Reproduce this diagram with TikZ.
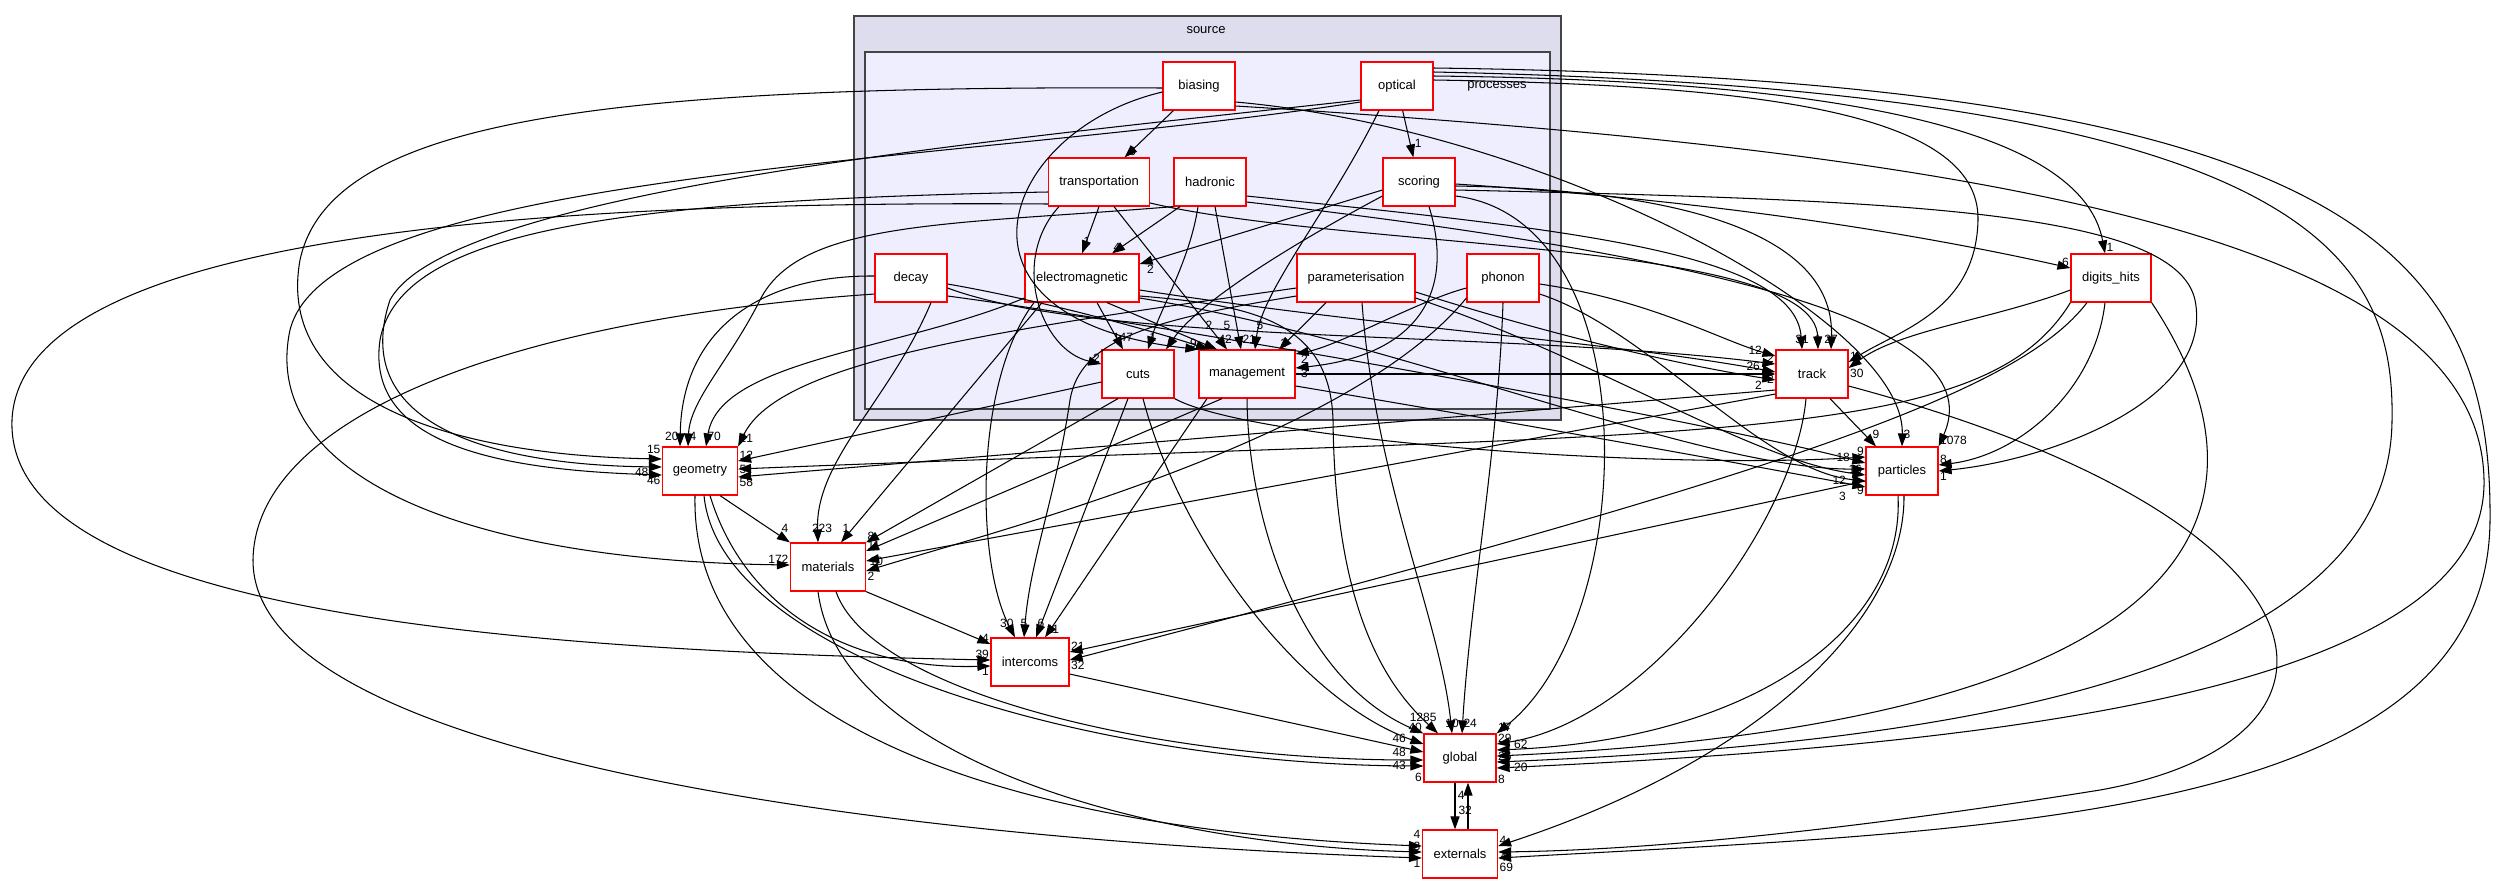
\documentclass[tikz,border=0pt]{standalone}
\usepackage{fontspec}
\setmainfont{Liberation Sans}
\usetikzlibrary{arrows.meta}
\definecolor{srcfill}{HTML}{DDDDEE}
\definecolor{procfill}{HTML}{EEEEFF}
\definecolor{clusterline}{HTML}{444444}

\begin{document}
\begin{tikzpicture}
[x=1pt,y=-1pt]
\tikzstyle{every node}=[font=\fontsize{13}{15}\selectfont]
\tikzstyle{dirbox}=[draw=red,line width=1.2pt,fill=white,minimum width=72pt,minimum height=48pt,inner sep=2pt]
\tikzstyle{dep}=[line width=1.05pt,-{Triangle[length=13pt,width=9pt]}]
\tikzstyle{lbl}=[font=\fontsize{12}{12}\selectfont,inner sep=1pt]
\useasboundingbox (0,0) rectangle (2499,884);
\draw[line width=1.8pt,draw=clusterline,fill=srcfill] (854,16) rectangle (1561,420);
\draw[line width=1.8pt,draw=clusterline,fill=procfill] (865,52) rectangle (1550,409);
\node (sourcename) at (1206,30) {source};
\node (processesname) at (1497,86) {processes};
\node[dirbox] (biasing) at (1199,86) {biasing};
\node[dirbox] (optical) at (1397,86) {optical};
\node[dirbox,minimum width=101pt] (transportation) at (1099,182) {transportation};
\node[dirbox] (hadronic) at (1210,182) {hadronic};
\node[dirbox] (scoring) at (1419,182) {scoring};
\node[dirbox] (decay) at (911,278) {decay};
\node[dirbox,minimum width=114pt] (electromagnetic) at (1082,278) {electromagnetic};
\node[dirbox,minimum width=118pt] (parameterisation) at (1356,278) {parameterisation};
\node[dirbox] (phonon) at (1503,278) {phonon};
\node[dirbox] (cuts) at (1138,374) {cuts};
\node[dirbox,minimum width=96pt] (management) at (1247,374) {management};
\node[dirbox] (track) at (1812,374) {track};
\node[dirbox,minimum width=80pt] (digitshits) at (2111,278) {digits\_hits};
\node[dirbox] (particles) at (1902,471) {particles};
\node[dirbox,minimum width=75pt] (geometry) at (700,471) {geometry};
\node[dirbox,minimum width=75pt] (materials) at (828,567) {materials};
\node[dirbox,minimum width=78pt] (intercoms) at (1030,662) {intercoms};
\node[dirbox] (global) at (1460,758) {global};
\node[dirbox,minimum width=75pt] (externals) at (1460,854) {externals};

\draw[dep] (biasing) -- (transportation) node[lbl,at end,anchor=south west,xshift=3pt] {6};
\draw[dep] (optical) -- (scoring) node[lbl,at end,anchor=south west,yshift=8pt] {1};
\draw[dep] (transportation.south) -- (electromagnetic.north) node[lbl,at end,anchor=south west,yshift=6pt] {1};
\draw[dep] ([xshift=-30pt]hadronic.south) -- ([xshift=30pt]electromagnetic.north) node[lbl,at end,anchor=south west] {4};
\draw[dep] ([yshift=-8pt]scoring.west) -- ([yshift=14pt]electromagnetic.east) node[lbl,at end,anchor=north west,xshift=6pt] {2};
\draw[dep] ([xshift=15pt]electromagnetic.south) -- ([xshift=-15pt]cuts.north) node[lbl,at end,anchor=south,yshift=6pt] {147};
\draw[dep] ([xshift=-12pt]hadronic.south) .. controls (1190,260) and (1160,310) .. ([xshift=10pt]cuts.north) node[lbl,at end,anchor=south west,yshift=6pt] {1};
\draw[dep] ([xshift=-40pt]transportation.south) .. controls (1010,260) and (1040,350) .. ([yshift=10pt]cuts.west) node[lbl,at end,anchor=south east] {2};
\draw[dep] ([yshift=-14pt]scoring.west) .. controls (1300,240) and (1200,300) .. ([xshift=28pt]cuts.north) node[lbl,at end,anchor=south west] {2};
\draw[dep] ([yshift=-6pt]biasing.west) .. controls (1000,130) and (930,320) .. (management.north west) node[lbl,at end,anchor=south east] {9};
\draw[dep] ([yshift=-6pt]decay.east) .. controls (1040,300) and (1150,330) .. ([xshift=-38pt]management.north) node[lbl,at end,anchor=south,yshift=18pt] {2};
\draw[dep] ([xshift=25pt]electromagnetic.south) -- ([xshift=-30pt]management.north) node[lbl,at end,anchor=south west,yshift=4pt] {42};
\draw[dep] ([xshift=15pt]transportation.south) -- ([xshift=-20pt]management.north) node[lbl,at end,anchor=south,yshift=18pt] {5};
\draw[dep] ([xshift=5pt]hadronic.south) -- ([xshift=-6pt]management.north) node[lbl,at end,anchor=south west,yshift=4pt] {21};
\draw[dep] ([xshift=-18pt]optical.south) .. controls (1330,210) and (1262,290) .. ([xshift=8pt]management.north) node[lbl,at end,anchor=south west,yshift=18pt] {5};
\draw[dep] ([xshift=-30pt]parameterisation.south) -- ([xshift=32pt]management.north) node[lbl,at end,anchor=south west] {3};
\draw[dep] ([yshift=-10pt]phonon.west) .. controls (1420,300) and (1340,345) .. ([yshift=20pt]management.east) node[lbl,at end,anchor=north west,xshift=4pt] {2};
\draw[dep] ([xshift=10pt]scoring.south) .. controls (1455,290) and (1420,355) .. ([yshift=6pt]management.east) node[lbl,at end,anchor=north west,xshift=4pt] {3};
\draw[dep] (management.east) -- (track.west) node[lbl,at end,anchor=north east] {2};

\draw[dep] ([yshift=-14pt]hadronic.east) .. controls (1550,228) and (1795,250) .. ([xshift=-10pt]track.north) node[lbl,at end,anchor=south,yshift=4pt] {31};
\draw[dep] ([yshift=-21pt]transportation.east) .. controls (1350,250) and (1815,240) .. ([xshift=6pt]track.north) node[lbl,at end,anchor=south,yshift=4pt] {1};
\draw[dep] ([yshift=-4pt]scoring.east) .. controls (1700,190) and (1835,240) .. ([xshift=19pt]track.north) node[lbl,at end,anchor=south,yshift=4pt] {27};
\draw[dep] ([yshift=-10pt]decay.east) .. controls (1100,345) and (1500,330) .. ([yshift=10pt]track.west) node[lbl,at end,anchor=south east] {2};
\draw[dep] ([yshift=-12pt]electromagnetic.east) .. controls (1400,330) and (1600,340) .. ([yshift=2pt]track.west) node[lbl,at end,anchor=south east,xshift=-14pt] {26};
\draw[dep] ([yshift=-14pt]parameterisation.east) .. controls (1520,325) and (1650,360) .. ([yshift=-6pt]track.west) node[lbl,at end,anchor=north east,xshift=-12pt] {2};
\draw[dep] ([yshift=-6pt]phonon.east) .. controls (1650,300) and (1720,340) .. ([yshift=18pt]track.west) node[lbl,at end,anchor=south east,xshift=-12pt] {12};
\draw[dep] ([yshift=6pt]optical.east) .. controls (1750,85) and (1980,110) .. (1978,220) .. controls (1976,310) and (1900,330) .. ([yshift=12pt]track.east) node[lbl,at end,anchor=south west] {1};
\draw[dep] ([yshift=-12pt]digitshits.west) .. controls (1990,320) and (1900,330) .. ([yshift=6pt]track.east) node[lbl,at end,anchor=north west] {30};

\draw[dep] ([yshift=-2pt]scoring.east) .. controls (1700,200) and (1900,230) .. ([yshift=10pt]digitshits.west) node[lbl,at end,anchor=south east] {6};
\draw[dep] ([yshift=10pt]optical.east) .. controls (1800,80) and (2080,120) .. ([xshift=-6pt]digitshits.north) node[lbl,at end,anchor=south west] {1};

\draw[dep] ([xshift=18pt]track.south) -- ([xshift=-26pt]particles.north) node[lbl,at end,anchor=south,yshift=6pt] {9};
\draw[dep] ([yshift=-16pt]biasing.east) .. controls (1550,130) and (1905,320) .. (particles.north) node[lbl,at end,anchor=south west,yshift=6pt] {3};
\draw[dep] ([yshift=-20pt]hadronic.east) .. controls (1750,260) and (1990,330) .. (particles.north east) node[lbl,at end,anchor=south west] {1078};
\draw[dep] ([yshift=-18pt]decay.east) .. controls (1200,330) and (1700,420) .. ([yshift=8pt]particles.west) node[lbl,at end,anchor=south east,xshift=-14pt] {18};
\draw[dep] ([yshift=-20pt]electromagnetic.east) .. controls (1400,340) and (1700,470) .. ([yshift=2pt]particles.west) node[lbl,at end,anchor=east,xshift=-2pt] {16};
\draw[dep] ([yshift=-20pt]parameterisation.east) .. controls (1600,360) and (1750,460) .. ([yshift=-4pt]particles.west) node[lbl,at end,anchor=north east,xshift=-18pt] {12};
\draw[dep] ([yshift=-16pt]phonon.east) .. controls (1650,330) and (1760,470) .. ([yshift=-10pt]particles.west) node[lbl,at end,anchor=north east,yshift=-4pt] {9};
\draw[dep] (cuts.south east) .. controls (1250,440) and (1650,470) .. ([yshift=14pt]particles.west) node[lbl,at end,anchor=south east] {9};
\draw[dep] ([yshift=-12pt]management.east) .. controls (1500,420) and (1750,465) .. ([yshift=-16pt]particles.west) node[lbl,at end,anchor=north east,xshift=-18pt,yshift=-4pt] {3};
\draw[dep] ([xshift=-6pt]digitshits.south) .. controls (2095,390) and (2020,455) .. ([yshift=6pt]particles.east) node[lbl,at end,anchor=south west] {8};
\draw[dep] ([yshift=-8pt]scoring.east) .. controls (1900,200) and (2175,210) .. (2195,300) .. controls (2215,400) and (2050,460) .. (particles.east) node[lbl,at end,anchor=north west] {1};

\draw[dep] ([yshift=-18pt]electromagnetic.east) .. controls (1250,305) and (1330,320) .. (1333,420) .. controls (1335,600) and (1380,680) .. ([xshift=-22pt]global.north) node[lbl,at end,anchor=south east,yshift=10pt] {1285};
\draw[dep] ([xshift=6pt]parameterisation.south) .. controls (1375,480) and (1440,620) .. ([xshift=-8pt]global.north) node[lbl,at end,anchor=south,yshift=4pt] {10};
\draw[dep] (phonon.south) .. controls (1498,450) and (1470,600) .. ([xshift=2pt]global.north) node[lbl,at end,anchor=south west,yshift=4pt] {24};
\draw[dep] ([yshift=-14pt]scoring.east) .. controls (1650,220) and (1640,620) .. (global.north east) node[lbl,at end,anchor=south west] {17};
\draw[dep] ([yshift=-12pt]intercoms.east) -- ([yshift=6pt]global.west) node[lbl,at end,anchor=east,xshift=-16pt] {48};
\draw[dep] ([xshift=5pt]cuts.south) .. controls (1180,540) and (1300,700) .. ([yshift=14pt]global.west) node[lbl,at end,anchor=south east,xshift=-16pt] {46};
\draw[dep] (management.south) .. controls (1248,520) and (1300,680) .. (global.north west) node[lbl,at end,anchor=south east] {40};
\draw[dep] ([xshift=8pt]materials.south) .. controls (870,690) and (1150,760) .. ([yshift=-2pt]global.west) node[lbl,at end,anchor=north east,xshift=-16pt] {43};
\draw[dep] ([xshift=4pt]geometry.south) .. controls (720,660) and (1100,765) .. ([yshift=-8pt]global.west) node[lbl,at end,anchor=north east,yshift=-6pt] {6};
\draw[dep] ([xshift=-6pt]track.south) .. controls (1795,520) and (1650,720) .. ([yshift=14pt]global.east) node[lbl,at end,anchor=south west] {29};
\draw[dep] ([xshift=-4pt]particles.south) .. controls (1905,630) and (1750,740) .. ([yshift=8pt]global.east) node[lbl,at end,anchor=south west,xshift=16pt] {62};
\draw[dep] (digitshits.south east) .. controls (2270,480) and (2260,720) .. ([yshift=2pt]global.east) node[lbl,at end,anchor=west] {26};
\draw[dep] ([yshift=14pt]optical.east) .. controls (2300,90) and (2395,250) .. (2392,420) .. controls (2390,690) and (1900,745) .. ([yshift=-4pt]global.east) node[lbl,at end,anchor=north west,xshift=16pt] {20};
\draw[dep] ([yshift=-20pt]biasing.east) .. controls (1950,150) and (2480,230) .. (2484,480) .. controls (2488,690) and (2000,745) .. ([yshift=-10pt]global.east) node[lbl,at end,anchor=north west,yshift=-6pt] {8};

\draw[dep] ([xshift=-5pt]global.south) -- ([xshift=-5pt]externals.north) node[lbl,pos=0.6,anchor=west,xshift=2pt] {32};
\draw[dep] ([xshift=8pt]externals.north) -- ([xshift=8pt]global.south) node[lbl,pos=0.72,anchor=east,xshift=-2pt] {4};
\draw[dep] ([yshift=-12pt]track.east) .. controls (2350,520) and (2380,740) .. (2100,790) .. controls (1850,830) and (1650,850) .. ([yshift=2pt]externals.east) node[lbl,at end,anchor=north west] {4};
\draw[dep] ([xshift=2pt]particles.south) .. controls (1905,620) and (1760,760) .. ([yshift=8pt]externals.east) node[lbl,at end,anchor=south west] {4};
\draw[dep] ([yshift=18pt]optical.east) .. controls (2350,80) and (2492,250) .. (2490,520) .. controls (2488,820) and (2000,830) .. ([yshift=-4pt]externals.east) node[lbl,at end,anchor=north west,yshift=-4pt] {69};
\draw[dep] ([xshift=-5pt]geometry.south) .. controls (690,720) and (1000,830) .. ([yshift=8pt]externals.west) node[lbl,at end,anchor=south east,yshift=6pt] {4};
\draw[dep] ([xshift=-10pt]materials.south) .. controls (840,760) and (1150,845) .. ([yshift=2pt]externals.west) node[lbl,at end,anchor=south east] {3};
\draw[dep] ([yshift=-16pt]decay.west) .. controls (500,320) and (255,420) .. (253,560) .. controls (252,760) and (900,840) .. ([yshift=-4pt]externals.west) node[lbl,at end,anchor=north east] {1};

\draw[dep] ([yshift=-2pt]biasing.west) .. controls (600,85) and (330,120) .. (300,260) .. controls (275,400) and (450,455) .. ([yshift=12pt]geometry.west) node[lbl,at end,anchor=south east,yshift=4pt] {15};
\draw[dep] ([yshift=-14pt]optical.west) .. controls (1000,140) and (450,190) .. (390,300) .. controls (350,420) and (480,465) .. ([yshift=4pt]geometry.west) node[lbl,at end,anchor=north east,xshift=-12pt] {48};
\draw[dep] ([yshift=-10pt]transportation.west) .. controls (620,200) and (400,230) .. (380,340) .. controls (365,445) and (500,470) .. ([yshift=-4pt]geometry.west) node[lbl,at end,anchor=north east] {46};
\draw[dep] (hadronic.south west) .. controls (950,225) and (800,220) .. (760,300) .. controls (730,360) and (690,400) .. ([xshift=-12pt]geometry.north) node[lbl,at end,anchor=south west,yshift=4pt] {4};
\draw[dep] ([yshift=2pt]decay.west) .. controls (760,275) and (682,330) .. ([xshift=-20pt]geometry.north) node[lbl,at end,anchor=south east,yshift=4pt] {20};
\draw[dep] ([yshift=-20pt]electromagnetic.west) .. controls (900,350) and (720,360) .. ([xshift=6pt]geometry.north) node[lbl,at end,anchor=south west,yshift=4pt] {70};
\draw[dep] ([yshift=-10pt]parameterisation.west) .. controls (1000,330) and (780,360) .. (geometry.north east) node[lbl,at end,anchor=south west,yshift=2pt] {21};
\draw[dep] ([yshift=-8pt]cuts.west) -- ([yshift=10pt]geometry.east) node[lbl,at end,anchor=south west] {12};
\draw[dep] ([yshift=-16pt]track.west) -- ([yshift=-6pt]geometry.east) node[lbl,at end,anchor=north west] {58};
\draw[dep] (digitshits.south west) .. controls (1980,450) and (1700,430) .. ([yshift=2pt]geometry.east) node[lbl,at end,anchor=west] {5};

\draw[dep] ([xshift=20pt]geometry.south) -- (materials.north west) node[lbl,at end,anchor=south east,yshift=8pt] {4};
\draw[dep] ([xshift=20pt]decay.south) .. controls (890,400) and (815,460) .. ([xshift=-10pt]materials.north) node[lbl,at end,anchor=south,xshift=4pt,yshift=8pt] {223};
\draw[dep] ([xshift=-40pt]electromagnetic.south) -- ([xshift=13pt]materials.north) node[lbl,at end,anchor=south west,yshift=8pt] {1};
\draw[dep] ([xshift=-20pt]cuts.south) -- (materials.north east) node[lbl,at end,anchor=south west] {8};
\draw[dep] ([xshift=-25pt]management.south) -- ([yshift=16pt]materials.east) node[lbl,at end,anchor=south west] {11};
\draw[dep] ([yshift=-20pt]track.west) -- ([yshift=6pt]materials.east) node[lbl,at end,anchor=west,xshift=2pt] {10};
\draw[dep] ([yshift=-20pt]phonon.west) .. controls (1350,440) and (1000,530) .. ([yshift=-4pt]materials.east) node[lbl,at end,anchor=north west] {2};
\draw[dep] ([yshift=-16pt]optical.west) .. controls (950,165) and (330,170) .. (290,330) .. controls (260,470) and (450,560) .. ([yshift=2pt]materials.west) node[lbl,at end,anchor=south east] {172};

\draw[dep] (materials.south east) -- ([yshift=18pt]intercoms.west) node[lbl,at end,anchor=south east] {4};
\draw[dep] ([yshift=-22pt]transportation.west) .. controls (500,200) and (20,240) .. (12,420) .. controls (5,610) and (500,650) .. ([yshift=2pt]intercoms.west) node[lbl,at end,anchor=south east] {39};
\draw[dep] ([xshift=-48pt]electromagnetic.south) .. controls (975,380) and (975,560) .. ([xshift=-15pt]intercoms.north) node[lbl,at end,anchor=south east,yshift=8pt] {30};
\draw[dep] ([yshift=-18pt]parameterisation.west) .. controls (1150,320) and (1080,340) .. (1070,400) .. controls (1055,500) and (1030,560) .. ([xshift=-6pt]intercoms.north) node[lbl,at end,anchor=south,yshift=8pt] {5};
\draw[dep] ([xshift=-10pt]cuts.south) -- ([xshift=6pt]intercoms.north) node[lbl,at end,anchor=south west,yshift=8pt] {6};
\draw[dep] ([xshift=-40pt]management.south) -- ([xshift=15pt]intercoms.north) node[lbl,at end,anchor=south west,yshift=2pt] {11};
\draw[dep] ([xshift=10pt]geometry.south) .. controls (745,610) and (850,670) .. ([yshift=-4pt]intercoms.west) node[lbl,at end,anchor=north east] {1};
\draw[dep] ([yshift=-10pt]particles.west) -- ([yshift=10pt]intercoms.east) node[lbl,at end,anchor=south west] {21};
\draw[dep] ([xshift=-24pt]digitshits.south) .. controls (2020,390) and (1800,470) .. ([yshift=2pt]intercoms.east) node[lbl,at end,anchor=north west] {32};
\end{tikzpicture}
\end{document}
